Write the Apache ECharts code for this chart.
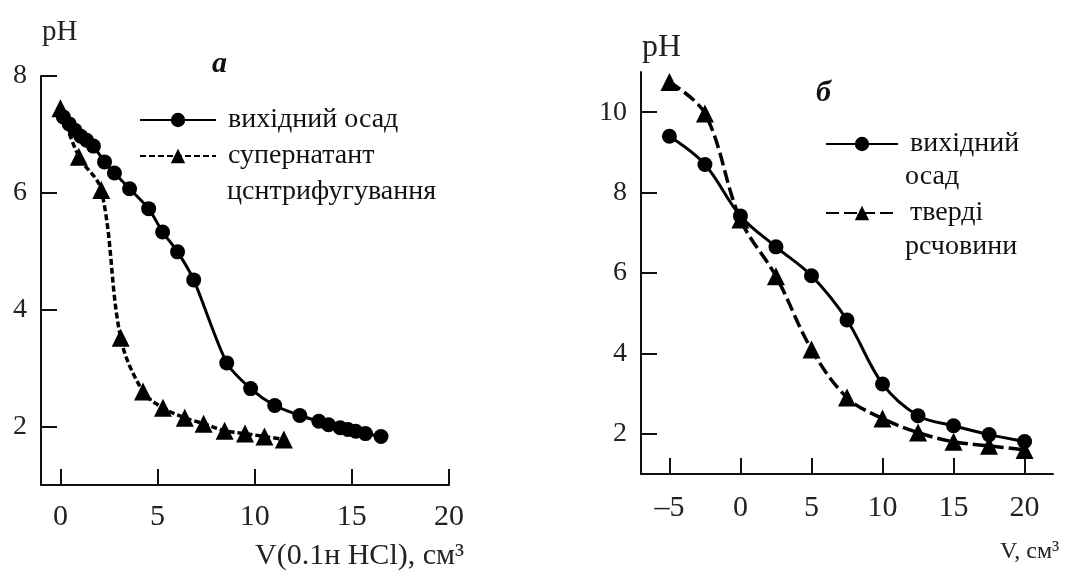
<!DOCTYPE html>
<html><head><meta charset="utf-8">
<script src="https://cdn.jsdelivr.net/npm/echarts@6/dist/echarts.min.js"></script>
<style>html,body{margin:0;padding:0;background:#fff}#c{width:1070px;height:575px}</style>
</head><body><div id="c"></div>
<script>
// ---- Panel а (left) ----
const aSedimentX = [0.15,0.45,0.75,1.05,1.35,1.7,2.27,2.78,3.56,4.54,5.26,6.03,6.86,8.56,9.79,11.03,12.32,13.3,13.8,14.4,14.8,15.2,15.7,16.5];
const aSedimentY = [7.3,7.18,7.07,6.97,6.9,6.8,6.53,6.34,6.07,5.73,5.33,4.99,4.51,3.09,2.65,2.36,2.19,2.09,2.03,1.98,1.95,1.92,1.88,1.83];
const aSuperX = [0.0,0.95,2.1,3.1,4.25,5.28,6.4,7.37,8.45,9.5,10.5,11.5];
const aSuperY = [7.45,6.62,6.05,3.52,2.6,2.32,2.15,2.05,1.93,1.88,1.83,1.78];
const aXTicks = [0,5,10,15,20];
const aYTicks = [2,4,6,8];
const aNames = ['вихідний осад','супернатант центрифугування'];
const aLegendLines = [' вихідний осад',' супернатант','цснтрифугування'];

// ---- Panel б (right) ----
const bX = [-5,-2.5,0,2.5,5,7.5,10,12.5,15,17.5,20];
const bSedimentY = [9.4,8.7,7.42,6.65,5.93,4.83,3.24,2.45,2.2,1.98,1.81];
const bSolidY = [10.75,9.97,7.33,5.92,4.1,2.9,2.38,2.03,1.8,1.7,1.6];
const bXTicks = [-5,0,5,10,15,20];
const bYTicks = [2,4,6,8,10];
const bNames = ['вихідний осад','тверді речовини'];
const bLegendLines = [' вихідний','осад',' тверді','рсчовини'];

const zip = (xs, ys) => xs.map((x, i) => [x, ys[i]]);
const FONT = 'Liberation Serif';
const TXT = '#222';

function xAxis(gi, min, max, ticks, fs, margin) {
  return {
    type: 'value', gridIndex: gi, min: min, max: max,
    axisLine: {show: true, onZero: false, lineStyle: {color: '#111', width: 2}},
    axisTick: {show: true, inside: true, length: 16, customValues: ticks, lineStyle: {color: '#111', width: 2}},
    axisLabel: {customValues: ticks, margin: margin, fontFamily: FONT, fontSize: fs, color: TXT,
      formatter: v => String(v).replace('-', '\u2013')},
    splitLine: {show: false}
  };
}
function yAxis(gi, min, max, ticks, fs) {
  return {
    type: 'value', gridIndex: gi, min: min, max: max,
    axisLine: {show: true, onZero: false, lineStyle: {color: '#111', width: 2}},
    axisTick: {show: true, inside: true, length: 16, customValues: ticks, lineStyle: {color: '#111', width: 2}},
    axisLabel: {customValues: ticks, margin: 14, fontFamily: FONT, fontSize: fs, color: TXT},
    splitLine: {show: false}
  };
}
function legend(name, label, left, top, w) {
  return {
    data: [name], left: left, top: top, orient: 'vertical', padding: 0,
    itemWidth: w, itemHeight: 18, itemGap: 0,
    formatter: () => label,
    textStyle: {fontFamily: FONT, fontSize: 28, color: '#111'}
  };
}

const chart = echarts.init(document.getElementById('c'));
chart.setOption({
  animation: false,
  backgroundColor: '#fff',
  grid: [
    {left: 41, top: 76, width: 408, height: 409},
    {left: 641, top: 72, width: 412, height: 402}
  ],
  xAxis: [xAxis(0, -1, 20, aXTicks, 30, 17), xAxis(1, -7, 22, bXTicks, 30, 19)],
  yAxis: [yAxis(0, 1, 8, aYTicks, 28), yAxis(1, 1, 11, bYTicks, 28)],
  legend: [
    legend(aNames[0], aLegendLines[0], 139, 106, 76),
    legend(aNames[1], aLegendLines[1], 139, 142, 76),
    legend(bNames[0], bLegendLines[0], 825, 130, 72),
    legend(bNames[1], bLegendLines[2], 825, 199, 72)
  ],
  series: [
    {name: aNames[0], type: 'line', xAxisIndex: 0, yAxisIndex: 0, data: zip(aSedimentX, aSedimentY),
      smooth: 0.25, symbol: 'circle', symbolSize: 15,
      lineStyle: {color: '#000', width: 3}, itemStyle: {color: '#000'}},
    {name: aNames[1], type: 'line', xAxisIndex: 0, yAxisIndex: 0, data: zip(aSuperX, aSuperY),
      smooth: 0.35, symbol: 'triangle', symbolSize: 18,
      lineStyle: {color: '#000', width: 3.5, type: [6, 3]}, itemStyle: {color: '#000'}},
    {name: bNames[0], type: 'line', xAxisIndex: 1, yAxisIndex: 1, data: zip(bX, bSedimentY),
      smooth: 0.35, symbol: 'circle', symbolSize: 15,
      lineStyle: {color: '#000', width: 3}, itemStyle: {color: '#000'}},
    {name: bNames[1], type: 'line', xAxisIndex: 1, yAxisIndex: 1, data: zip(bX, bSolidY),
      smooth: 0.35, symbol: 'triangle', symbolSize: 18,
      lineStyle: {color: '#000', width: 3.5, type: [13, 5]}, itemStyle: {color: '#000'}}
  ],
  graphic: [
    {type: 'text', left: 42, top: 18, style: {text: 'pH', font: '29px "Liberation Serif"', fill: TXT}},
    {type: 'text', left: 212, top: 49, style: {text: 'а', font: 'italic bold 30px "Liberation Serif"', fill: '#111'}},
    {type: 'text', left: 227, top: 178, style: {text: aLegendLines[2], font: '28px "Liberation Serif"', fill: '#111'}},
    {type: 'text', right: 1070 - 464, top: 541, style: {text: 'V(0.1н HCl), см³', font: '30px "Liberation Serif"', fill: TXT}},
    {type: 'text', left: 642, top: 32, style: {text: 'pH', font: '32px "Liberation Serif"', fill: TXT}},
    {type: 'text', left: 816, top: 78, style: {text: 'б', font: 'italic bold 30px "Liberation Serif"', fill: '#111'}},
    {type: 'text', left: 905, top: 163, style: {text: bLegendLines[1], font: '28px "Liberation Serif"', fill: '#111'}},
    {type: 'text', left: 905, top: 233, style: {text: bLegendLines[3], font: '28px "Liberation Serif"', fill: '#111'}},
    {type: 'text', left: 1000, top: 540, style: {text: 'V, см³', font: '24px "Liberation Serif"', fill: TXT}}
  ]
});
</script></body></html>
